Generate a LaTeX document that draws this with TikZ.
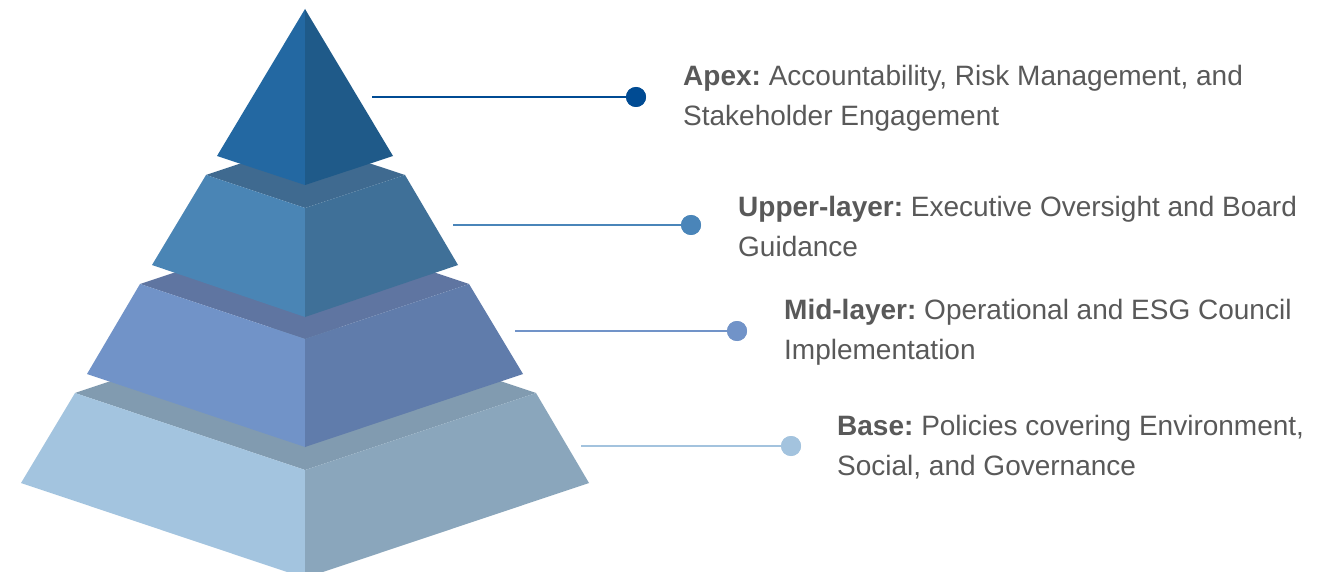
\documentclass[tikz,border=0pt]{standalone}
\usepackage{fontspec}
\setmainfont{Liberation Sans}
\definecolor{apL}{HTML}{2368A2}
\definecolor{apR}{HTML}{1F5A89}
\definecolor{upT}{HTML}{3F6A90}
\definecolor{upL}{HTML}{4A85B5}
\definecolor{upR}{HTML}{3F7098}
\definecolor{miT}{HTML}{5F75A1}
\definecolor{miL}{HTML}{7193C8}
\definecolor{miR}{HTML}{607CAB}
\definecolor{baT}{HTML}{819BB0}
\definecolor{baL}{HTML}{A3C4DF}
\definecolor{baR}{HTML}{8AA6BC}
\definecolor{dotA}{HTML}{004B93}
\definecolor{dotU}{HTML}{4A85B9}
\definecolor{dotM}{HTML}{7193C8}
\definecolor{dotB}{HTML}{A3C3DE}
\definecolor{txt}{HTML}{595959}
\tikzset{
  dot/.style={circle, minimum size=20pt, inner sep=0pt},
  conn/.style={line width=2pt},
  lbl/.style={anchor=west, align=left, inner sep=0pt, text=txt,
    font=\fontsize{28}{40}\selectfont},
}
\begin{document}
\begin{tikzpicture}[x=1pt,y=-1pt]
\useasboundingbox (0,0) rectangle (1320,572);
\clip (0,0) rectangle (1320,572);
\fill[white] (0,0) rectangle (1320,572);
% Base
\fill[baT] (75,393) -- (305,316) -- (536,393) -- (305,470) -- cycle;
\fill[baL] (75,393) -- (305,470) -- (305,578) -- (21,483) -- cycle;
\fill[baR] (536,393) -- (305,470) -- (305,578) -- (589,483) -- cycle;
% Mid
\fill[miT] (140,284) -- (305,229) -- (469,284) -- (305,339) -- cycle;
\fill[miL] (140,284) -- (305,339) -- (305,447) -- (87,374) -- cycle;
\fill[miR] (469,284) -- (305,339) -- (305,447) -- (523,374) -- cycle;
% Upper
\fill[upT] (206,175) -- (305,142) -- (405,175) -- (305,208) -- cycle;
\fill[upL] (206,175) -- (305,208) -- (305,317) -- (152,265) -- cycle;
\fill[upR] (405,175) -- (305,208) -- (305,317) -- (458,265) -- cycle;
% Apex
\fill[apL] (305,9) -- (217,156) -- (305,185) -- cycle;
\fill[apR] (305,9) -- (393,156) -- (305,185) -- cycle;
% connectors
\coordinate (sA) at (372,97);
\coordinate (sU) at (453,225);
\coordinate (sM) at (515,331);
\coordinate (sB) at (581,446);
\node[dot, fill=dotA] (dA) at (636,97) {};
\node[dot, fill=dotU] (dU) at (691,225) {};
\node[dot, fill=dotM] (dM) at (737,331) {};
\node[dot, fill=dotB] (dB) at (791,446) {};
\draw[conn, dotA] (sA) -- (dA.center);
\draw[conn, dotU] (sU) -- (dU.center);
\draw[conn, dotM] (sM) -- (dM.center);
\draw[conn, dotB] (sB) -- (dB.center);
\node[dot, fill=dotA] at (dA) {};
\node[dot, fill=dotU] at (dU) {};
\node[dot, fill=dotM] at (dM) {};
\node[dot, fill=dotB] at (dB) {};
% labels
\node[lbl] (tA) at (683,98) {\textbf{Apex:}\ Accountability, Risk Management, and\\Stakeholder Engagement};
\node[lbl] (tU) at (738,226) {\textbf{Upper-layer:}\ Executive Oversight and Board\\Guidance};
\node[lbl] (tM) at (784,332) {\textbf{Mid-layer:}\ Operational and ESG Council\\Implementation};
\node[lbl] (tB) at (837,447) {\textbf{Base:}\ Policies covering Environment,\\Social, and Governance};
\end{tikzpicture}
\end{document}
